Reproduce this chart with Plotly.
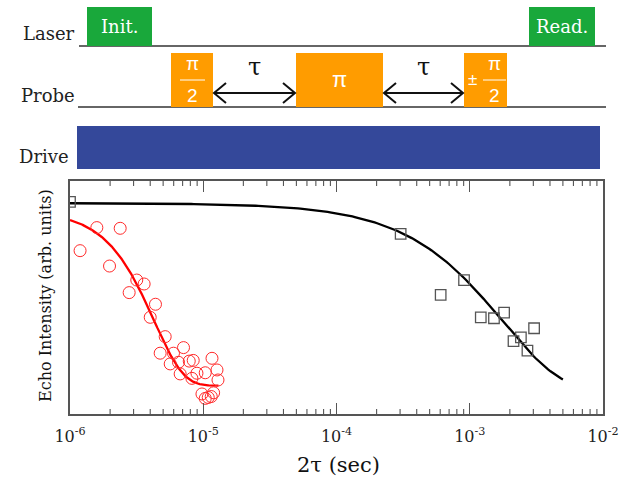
import numpy as np
import plotly.graph_objects as go

# ---------------- data ----------------
# Red circles (short-tau series): 2tau (s), echo intensity (arb.)
red_t = [1.19e-6, 1.59e-6, 2.38e-6, 1.98e-6, 3.17e-6, 3.60e-6, 2.78e-6, 4.38e-6,
         4.00e-6, 5.18e-6, 4.75e-6, 5.98e-6, 7.11e-6, 5.65e-6, 6.52e-6, 7.85e-6,
         8.41e-6, 1.163e-5, 6.71e-6, 8.22e-6, 8.97e-6, 1.035e-5, 1.268e-5, 1.29e-5,
         9.78e-6, 1.035e-5, 1.09e-5, 1.148e-5, 1.196e-5]
red_y = [0.701, 0.800, 0.797, 0.635, 0.575, 0.558, 0.521, 0.471,
         0.415, 0.332, 0.261, 0.261, 0.285, 0.215, 0.222, 0.227,
         0.230, 0.239, 0.172, 0.153, 0.175, 0.177, 0.189, 0.146,
         0.086, 0.067, 0.071, 0.075, 0.091]

# Black squares (long-tau series)
blk_t = [1.0e-6, 3.03e-4, 6.05e-4, 9.06e-4, 1.21e-3, 1.52e-3, 1.81e-3,
         2.13e-3, 2.42e-3, 2.71e-3, 3.04e-3]
blk_y = [0.910, 0.773, 0.511, 0.575, 0.415, 0.411, 0.435,
         0.313, 0.329, 0.272, 0.368]

# Fit parameters: y = B + A * exp(-(t/T)^n)
red_fit = dict(A=0.75, B=0.122, T=4.3e-6, n=2.0, tmax=1.3e-5)
blk_fit = dict(A=0.805, B=0.10, T=1.78e-3, n=1.0, tmax=5.0e-3)

tick_vals = [1e-6, 1e-5, 1e-4, 1e-3, 1e-2]
tick_text = ["10<sup>-6</sup>", "10<sup>-5</sup>", "10<sup>-4</sup>",
             "10<sup>-3</sup>", "10<sup>-2</sup>"]

W, H = 637, 481
PL, PR, PT, PB = 70, 603, 181, 414          # plot-area pixel box
SERIF = "DejaVu Serif, serif"
SANS = "Liberation Sans, Arial, sans-serif"
GREEN = "#19A83B"
ORANGE = "#FF9C00"
BLUE = "#34489A"
AXC = "#555555"


def px(x):
    return (x - PL) / (PR - PL)


def py(y):
    return (PB - y) / (PB - PT)


def fit_curve(p, n_pts=200):
    t = np.logspace(-6, np.log10(p["tmax"]), n_pts)
    return t, p["B"] + p["A"] * np.exp(-(t / p["T"]) ** p["n"])


fig = go.Figure()

rt, ry = fit_curve(red_fit)
bt, by = fit_curve(blk_fit)

fig.add_trace(go.Scatter(x=bt, y=by, mode="lines",
                         line=dict(color="black", width=2.3), hoverinfo="skip"))
fig.add_trace(go.Scatter(x=rt, y=ry, mode="lines",
                         line=dict(color="#FF0000", width=2.3), hoverinfo="skip"))
fig.add_trace(go.Scatter(x=red_t, y=red_y, mode="markers",
                         marker=dict(symbol="circle-open", size=12,
                                     color="#FF2A2A", line=dict(width=1))))
fig.add_trace(go.Scatter(x=blk_t, y=blk_y, mode="markers",
                         marker=dict(symbol="square-open", size=10.5,
                                     color="#555555", line=dict(width=1.3))))

fig.update_layout(
    width=W, height=H,
    margin=dict(l=PL, r=W - PR, t=PT, b=H - PB, autoexpand=False),
    paper_bgcolor="white", plot_bgcolor="white",
    showlegend=False,
    xaxis=dict(type="log", range=[-6, -2],
               tickvals=tick_vals, ticktext=tick_text,
               ticks="inside", ticklen=11, tickwidth=1.3, tickcolor=AXC,
               showline=True, linecolor=AXC, linewidth=1.5, mirror="ticks",
               showgrid=False, zeroline=False, ticklabelstandoff=7,
               tickfont=dict(family=SERIF, size=16, color="#222")),
    yaxis=dict(range=[0, 1], showticklabels=False,
               ticks="", showline=True, linecolor=AXC, linewidth=1.5,
               mirror=True, showgrid=False, zeroline=False),
)

shapes = []
annots = []

# minor log ticks (bottom and top)
for e in range(-6, -2):
    for m in range(2, 10):
        xv = m * 10.0 ** e
        for ya, yb in [(0, 5 / (PB - PT)), (1, 1 - 5 / (PB - PT))]:
            shapes.append(dict(type="line", xref="x", yref="paper", x0=xv, x1=xv,
                               y0=ya, y1=yb, line=dict(color=AXC, width=1.1)))


def rect(xa, ya, xb, yb, color):
    shapes.append(dict(type="rect", xref="paper", yref="paper",
                       x0=px(xa), y0=py(ya), x1=px(xb), y1=py(yb),
                       fillcolor=color, line=dict(width=0), layer="above"))


def line(xa, ya, xb, yb, color="#333", width=1.5):
    shapes.append(dict(type="line", xref="paper", yref="paper",
                       x0=px(xa), y0=py(ya), x1=px(xb), y1=py(yb),
                       line=dict(color=color, width=width), layer="above"))


def path(points, color="#111", width=2):
    d = "M " + " L ".join(f"{px(a):.5f},{py(b):.5f}" for a, b in points)
    shapes.append(dict(type="path", xref="paper", yref="paper", path=d,
                       line=dict(color=color, width=width), layer="above"))


def text(x, y, s, size, color="#222", family=SERIF, xanchor="center", angle=0):
    annots.append(dict(x=px(x), y=py(y), xref="paper", yref="paper", text=s,
                       showarrow=False, textangle=angle,
                       font=dict(family=family, size=size, color=color),
                       xanchor=xanchor, yanchor="middle"))


# baselines
line(79, 46, 606, 46)
line(78, 107, 606, 107)

# laser pulses
rect(87, 7, 152, 46, GREEN)
rect(529, 7, 595, 46, GREEN)
text(119.5, 26, "Init.", 18, "white")
text(562, 26, "Read.", 18, "white")

# probe pulses
rect(171, 53, 213, 107, ORANGE)
rect(296, 53, 383, 107, ORANGE)
rect(464, 53, 507, 107, ORANGE)
# pi/2
text(192, 63, "π", 19, "white", SANS)
line(180, 80, 205, 80, "white", 1)
text(192, 96, "2", 19, "white", SANS)
# pi
text(339.5, 80, "π", 22, "white", SANS)
# ±pi/2
text(472, 80, "±", 17, "white", SANS)
text(494, 63, "π", 19, "white", SANS)
line(483, 80, 506, 80, "white", 1)
text(494, 96, "2", 19, "white", SANS)

# tau arrows
for xa, xb in [(213, 296), (383, 464)]:
    line(xa + 1, 93, xb - 1, 93, "#111", 2)
    path([(xa + 13, 83), (xa + 1, 93), (xa + 13, 103)])
    path([(xb - 13, 83), (xb - 1, 93), (xb - 13, 103)])
    text((xa + xb) / 2, 67, "τ", 24, "#111")

# drive
rect(77, 126, 600, 169, BLUE)

# row labels
text(77, 34, "Laser", 18, "#222", SERIF, "right")
text(77, 95, "Probe", 18, "#222", SERIF, "right")
text(71, 157, "Drive", 18, "#222", SERIF, "right")

# axis titles
text(338, 465, "2τ (sec)", 21, "#111")
text(45, 296, "Echo Intensity (arb. units)", 16, "#111", angle=-90)

fig.update_layout(shapes=shapes, annotations=annots)

fig.write_html("out.html",
               config={"displayModeBar": False},
               post_script="document.body.style.margin='0px';"
                           "document.body.style.overflow='hidden';")
